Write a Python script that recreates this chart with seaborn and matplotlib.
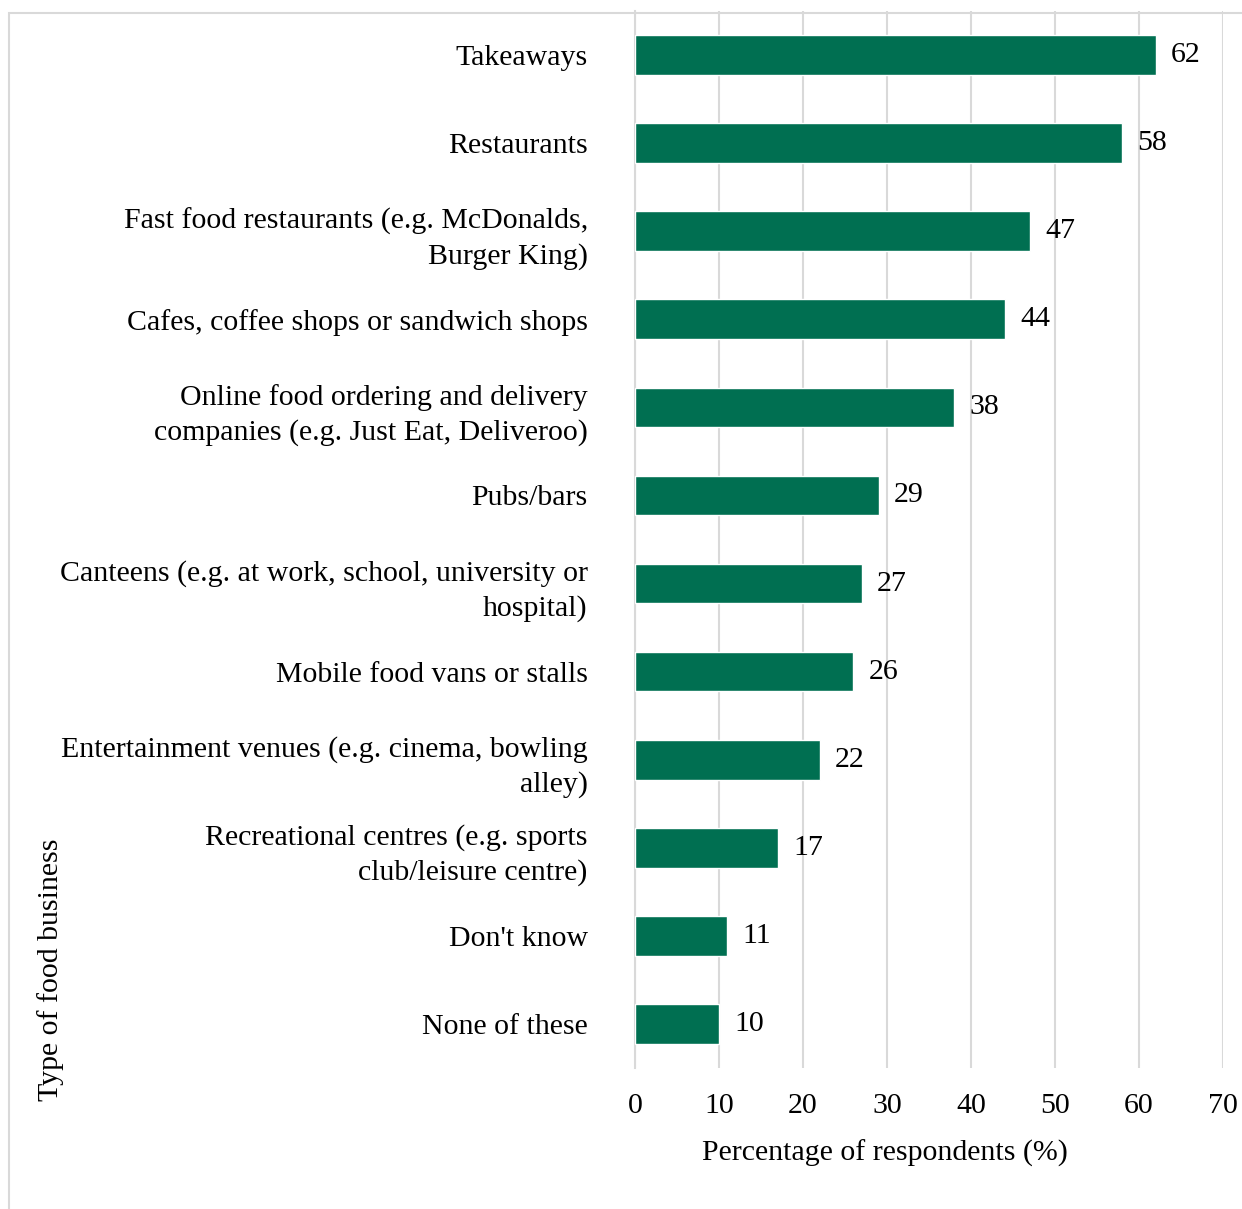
import matplotlib
matplotlib.use("Agg")
import matplotlib.pyplot as plt
import matplotlib.patches as mpatches
from matplotlib.ticker import FixedLocator
import seaborn as sns
import pandas as pd

categories = [
    "Takeaways",
    "Restaurants",
    "Fast food restaurants (e.g. McDonalds,\nBurger King)",
    "Cafes, coffee shops or sandwich shops",
    "Online food ordering and delivery\ncompanies (e.g. Just Eat, Deliveroo)",
    "Pubs/bars",
    "Canteens (e.g. at work, school, university or\nhospital)",
    "Mobile food vans or stalls",
    "Entertainment venues (e.g. cinema, bowling\nalley)",
    "Recreational centres (e.g. sports\nclub/leisure centre)",
    "Don't know",
    "None of these",
]
percentages = [62, 58, 47, 44, 38, 29, 27, 26, 22, 17, 11, 10]
x_ticks = [0, 10, 20, 30, 40, 50, 60, 70]

df = pd.DataFrame({"business": categories, "pct": percentages})

sns.set_theme(style="white")
plt.rcParams["font.family"] = ["Liberation Serif", "DejaVu Serif"]
plt.rcParams["text.color"] = "black"

BAR = "#006f51"
GRID = "#d9d9d9"
FS = 21.5

W, H = 1242, 1209
fig = plt.figure(figsize=(W / 100, H / 100), dpi=100)
ax = fig.add_axes([635 / W, 1 - 1068 / H, 588 / W, (1068 - 11) / H])

sns.barplot(data=df, x="pct", y="business", orient="h", color=BAR,
            saturation=1, width=0.45, ax=ax, zorder=3)

ax.set_xlim(0, 70)
ax.set_ylim(len(categories) - 0.5, -0.5)
ax.xaxis.set_major_locator(FixedLocator(x_ticks))
ax.set_xticklabels([str(t) for t in x_ticks], fontsize=FS)
ax.grid(axis="x", color=GRID, linewidth=1.5, zorder=0)
ax.grid(axis="y", visible=False)

for side in ["top", "right", "bottom"]:
    ax.spines[side].set_visible(False)
ax.spines["left"].set_color(GRID)
ax.spines["left"].set_linewidth(1.5)

ax.tick_params(axis="x", length=0, pad=18, colors="black", labelsize=FS)
ax.tick_params(axis="y", which="major", length=0, pad=34, labelsize=FS, colors="black")
for lbl in ax.get_yticklabels():
    lbl.set_multialignment("right")
    lbl.set_linespacing(1.4)
ax.yaxis.set_minor_locator(FixedLocator([i - 0.5 for i in range(len(categories) + 1)]))
ax.tick_params(axis="y", which="minor", length=7, width=1.5, color=GRID, direction="out")

ax.set_xlabel("")
ax.set_ylabel("")

for cont in ax.containers:
    ax.bar_label(cont, labels=[str(v) for v in percentages], padding=11,
                 fontsize=FS, color="black")

fig.text(885 / W, 1 - 1153 / H, "Percentage of respondents (%)", fontsize=FS,
         ha="center", va="center", color="black")
fig.text(51 / W, 1 - 1101 / H, "Type of food business", fontsize=FS,
         rotation=90, ha="center", va="bottom", color="black")

border = mpatches.Rectangle((8.5 / W, -0.05), 1.1, 1 - 12.5 / H + 0.05,
                            transform=fig.transFigure, fill=False,
                            edgecolor=GRID, linewidth=1.5, clip_on=False)
fig.patches.append(border)

fig.savefig("out.png", dpi=100)
